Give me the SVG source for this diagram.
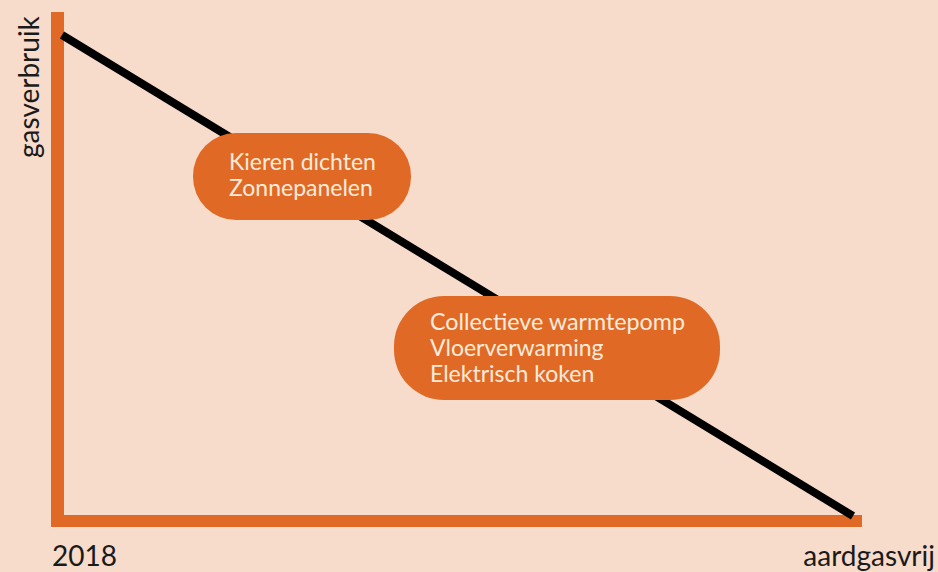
<svg xmlns="http://www.w3.org/2000/svg" width="938" height="572" viewBox="0 0 938 572">
<style>
.ax{fill:#E06A25}
.box{fill:#E06A25}
.bt{font-family:Lato,"Open Sans",sans-serif;font-size:23px;fill:#FCEBDC}
.lab{font-family:Lato,"Open Sans",sans-serif;font-size:28px;fill:#1a1a1a}
</style>
<rect width="938" height="572" fill="#F7DBCB"/>
<g id="axes">
<rect class="ax" x="51" y="12" width="13" height="515"/>
<rect class="ax" x="51" y="515" width="811" height="12"/>
</g>
<g id="connectors">
<line x1="62" y1="35" x2="853" y2="516" stroke="#000" stroke-width="8"/>
</g>
<g id="node1">
<rect class="box" x="193" y="133" width="218" height="87" rx="43"/>
<text class="bt" x="229" y="170">Kieren dichten</text>
<text class="bt" x="229" y="196">Zonnepanelen</text>
</g>
<g id="node2">
<rect class="box" x="394" y="296" width="326" height="104" rx="50"/>
<text class="bt" x="430" y="330" textLength="255" lengthAdjust="spacingAndGlyphs">Collectieve warmtepomp</text>
<text class="bt" x="430" y="356">Vloerverwarming</text>
<text class="bt" x="430" y="382">Elektrisch koken</text>
</g>
<g id="labels">
<text class="lab" transform="translate(39,158) rotate(-90)">gasverbruik</text>
<text class="lab" x="52" y="566">2018</text>
<text class="lab" x="935" y="566" text-anchor="end">aardgasvrij</text>
</g>
</svg>
